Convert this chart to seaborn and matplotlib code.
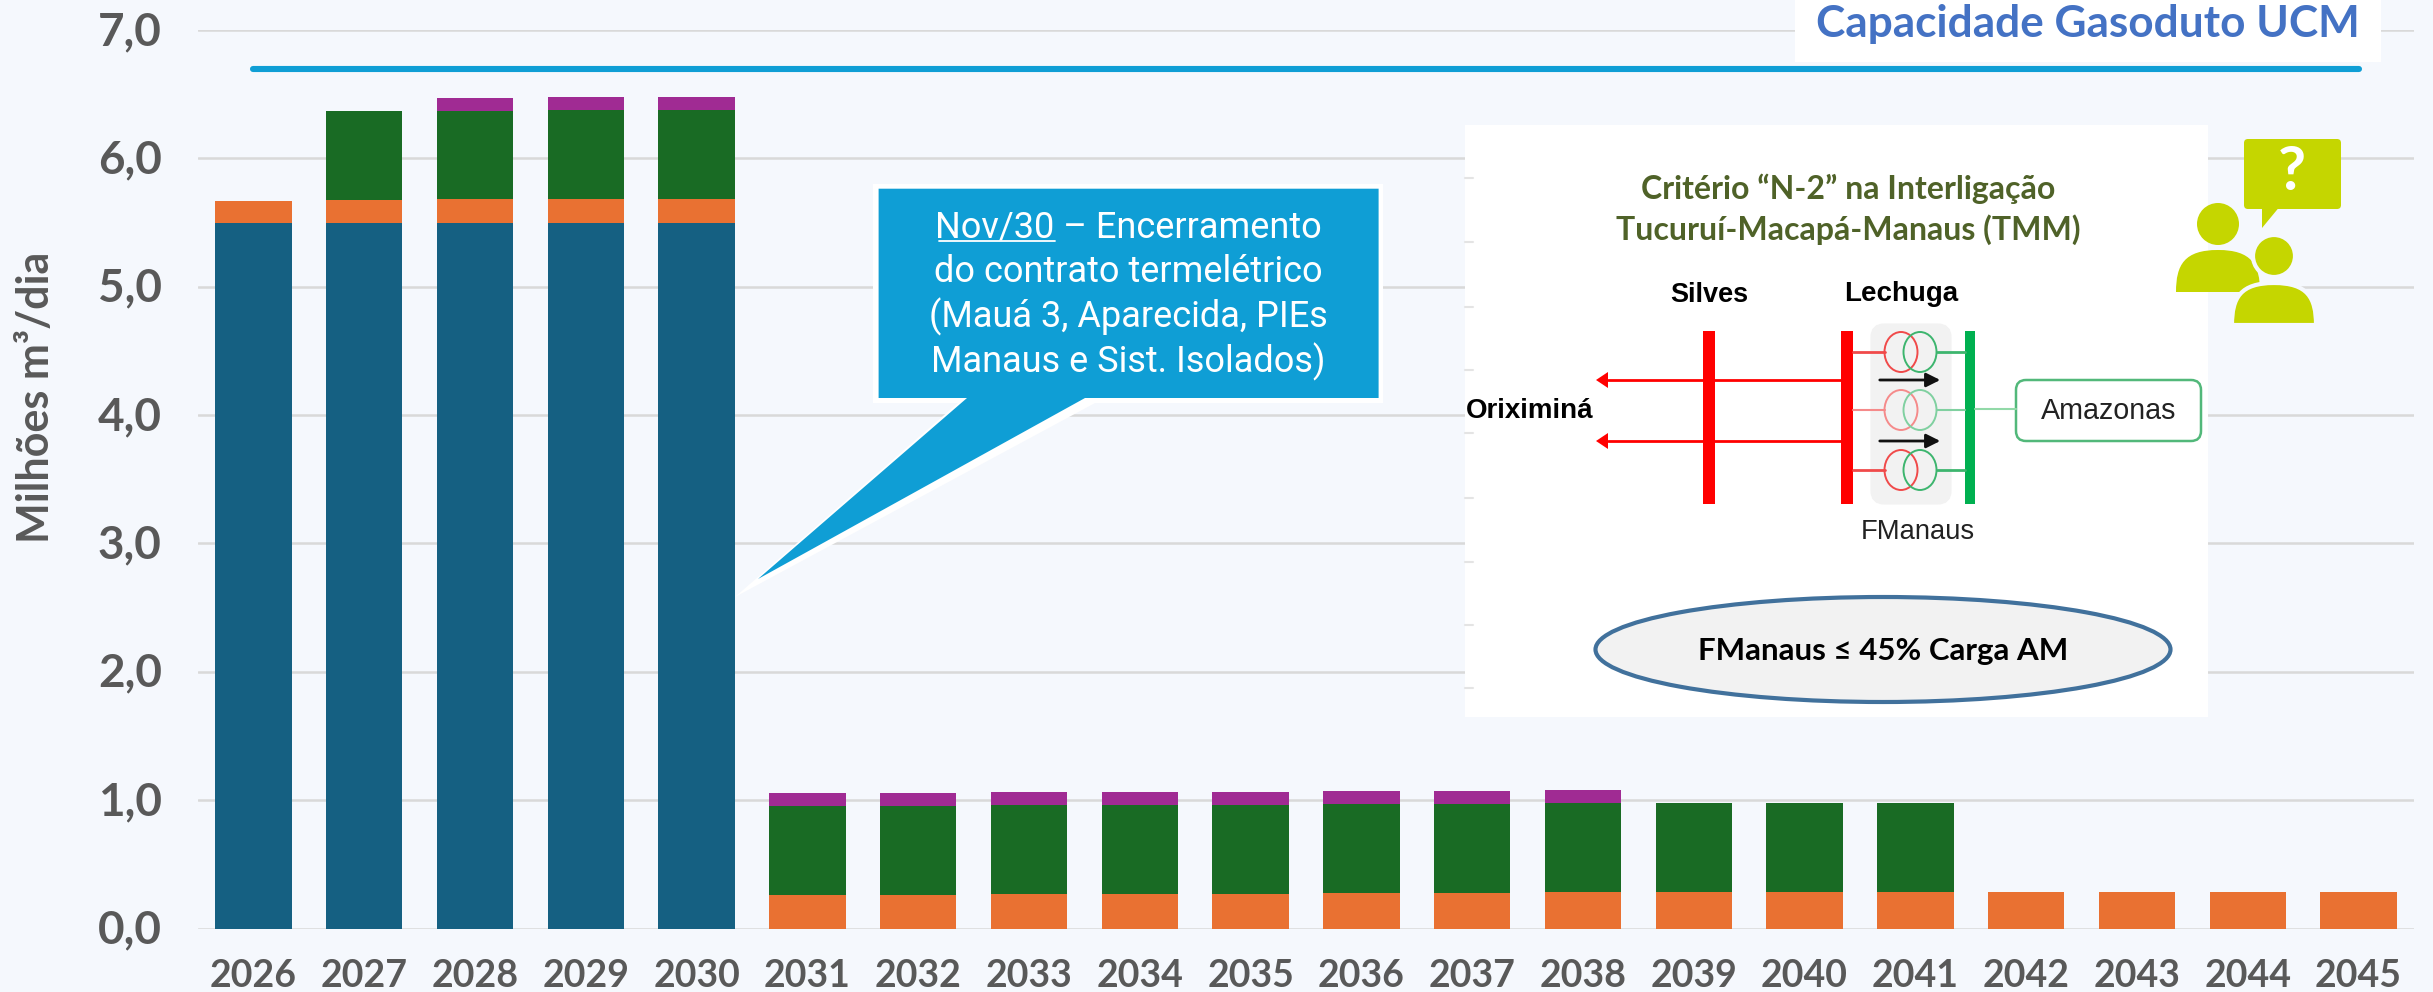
import numpy as np
import matplotlib
matplotlib.use("Agg")
import matplotlib.pyplot as plt
import seaborn as sns
from matplotlib.patches import Rectangle, Ellipse, FancyBboxPatch, Polygon, PathPatch
from matplotlib.path import Path
from matplotlib.transforms import ScaledTranslation

years = [str(y) for y in range(2026, 2046)]
termeletrico = [5.5, 5.5, 5.5, 5.5, 5.5] + [0.0] * 15
laranja = [0.165, 0.175, 0.18, 0.185, 0.187, 0.262, 0.262, 0.267, 0.27, 0.273,
           0.275, 0.278, 0.283, 0.286, 0.286, 0.288, 0.288, 0.288, 0.288, 0.288]
verde = [0.0, 0.695, 0.69, 0.69, 0.69, 0.695, 0.695, 0.693, 0.692, 0.692,
         0.692, 0.694, 0.692, 0.694, 0.694, 0.692, 0.0, 0.0, 0.0, 0.0]
roxo = [0.0, 0.0, 0.10, 0.10, 0.10, 0.099, 0.102, 0.102, 0.103, 0.102,
        0.103, 0.10, 0.103, 0.0, 0.0, 0.0, 0.0, 0.0, 0.0, 0.0]
capacidade = [6.7] * 20
y_ticks = [0, 1, 2, 3, 4, 5, 6, 7]
y_labels = ["0,0", "1,0", "2,0", "3,0", "4,0", "5,0", "6,0", "7,0"]
callout_lines = ["Nov/30 – Encerramento", "do contrato termelétrico",
                 "(Mauá 3, Aparecida, PIEs", "Manaus e Sist. Isolados)"]

BG = "#F5F8FD"
GRAY = "#595959"
W, H = 2433, 992
sns.set_theme(style="white")
plt.rcParams["font.family"] = ["Lato", "DejaVu Sans"]

fig = plt.figure(figsize=(W / 100, H / 100), dpi=100, facecolor=BG)
ax = fig.add_axes([198 / W, (H - 928.6) / H, (2414 - 198) / W, 898.6 / H], facecolor=BG)

bottom = np.zeros(20)
for vals, col in [(termeletrico, "#156082"), (laranja, "#E97132"), (verde, "#196B24"), (roxo, "#A02B93")]:
    sns.barplot(x=years, y=vals, bottom=bottom, color=col, saturation=1, width=0.69,
                ax=ax, linewidth=0, zorder=3)
    bottom = bottom + np.array(vals)
sns.lineplot(x=np.arange(20), y=capacidade, color="#0F9ED5", linewidth=4.4, ax=ax,
             solid_capstyle="round", zorder=4, legend=False)

ax.set_xlim(-0.5, 19.5)
ax.set_ylim(0, 7)
ax.set_yticks(y_ticks)
ax.set_yticklabels(y_labels, fontsize=33, fontweight="bold", color=GRAY)
ax.set_xticks(range(20))
ax.set_xticklabels(years, fontsize=27, fontweight="bold", color=GRAY)
ax.tick_params(axis="y", length=0, pad=26)
ax.tick_params(axis="x", length=0, pad=22)
for lab in ax.get_yticklabels():
    lab.set_transform(lab.get_transform() + ScaledTranslation(0, 1.5 / 72, fig.dpi_scale_trans))
ax.grid(axis="y", color="#D9D9D9", linewidth=1.8)
ax.grid(axis="x", visible=False)
ax.set_axisbelow(True)
for s in ax.spines.values():
    s.set_visible(False)
ax.set_xlabel("")
ax.set_ylabel("")

# overlay in pixel coordinates
ov = fig.add_axes([0, 0, 1, 1], facecolor="none")
ov.set_xlim(0, W)
ov.set_ylim(H, 0)
ov.axis("off")

ov.text(36, 397, "Milhões m³/dia", rotation=90, ha="center", va="center",
        fontsize=31, fontweight="bold", color=GRAY)

# capacity label
ov.add_patch(Rectangle((1795, 0), 586, 62, fc="white", ec="none"))
ov.text(2088, 24, "Capacidade Gasoduto UCM", ha="center", va="center",
        fontsize=31.8, fontweight="bold", color="#4472C4")

# callout
blue = "#0F9ED5"
outer = [(873, 184), (1383, 184), (1383, 403), (1095, 403), (735, 597), (958, 403), (873, 403)]
inner = [(878.6, 188.7), (1378.6, 188.7), (1378.6, 398), (1085, 398), (758, 579), (967, 398), (878.6, 398)]
ov.add_patch(Polygon(outer, closed=True, fc="white", ec="none"))
ov.add_patch(Polygon(inner, closed=True, fc=blue, ec="none"))
for line, yy in zip(callout_lines, [227, 272, 317, 362]):
    ov.text(1128.6, yy, line, ha="center", va="center", fontsize=26, color="white",
            family=["Roboto", "DejaVu Sans"])
ov.plot([939, 1055], [241, 241], color="white", lw=1.3)

# inset
ov.add_patch(Rectangle((1465, 125), 743, 592, fc="white", ec="none"))
for yy in [178, 242, 307, 370, 433, 498, 562, 625, 688]:
    ov.plot([1465, 1473], [yy, yy], color="#E4E4E4", lw=1.5)
tcol = "#4F6228"
ov.text(1848, 189, "Critério “N-2” na Interligação", ha="center", va="center",
        fontsize=23, fontweight="bold", color=tcol)
ov.text(1848, 230, "Tucuruí-Macapá-Manaus (TMM)", ha="center", va="center",
        fontsize=23, fontweight="bold", color=tcol)
ov.text(1709, 295, "Silves", ha="center", va="center", fontsize=19.5, fontweight="bold", color="black",
        family=["Liberation Sans"])
ov.text(1901, 294, "Lechuga", ha="center", va="center", fontsize=20, fontweight="bold", color="black",
        family=["Liberation Sans"])
ov.text(1530, 411, "Oriximiná", ha="center", va="center", fontsize=20, fontweight="bold", color="black",
        family=["Liberation Sans"])
ov.text(1918, 532, "FManaus", ha="center", va="center", fontsize=19.7, color="#222222",
        family=["Liberation Sans"])
ov.add_patch(FancyBboxPatch((1876, 329), 70, 170, boxstyle="round,pad=0,rounding_size=8",
                            fc="#F2F2F2", ec="#F2F2F2", lw=8))
for yy in [380, 441]:
    ov.plot([1608, 1841], [yy, yy], color="#FF0000", lw=2)
    ov.add_patch(Polygon([(1596, yy), (1608, yy - 8), (1608, yy + 8)], fc="#FF0000", ec="none"))
    ov.annotate("", xy=(1943, yy), xytext=(1877, yy),
                arrowprops=dict(arrowstyle="-|>,head_width=0.35,head_length=0.7", color="#111111", lw=2))
for x0 in [1703, 1841]:
    ov.add_patch(Rectangle((x0, 331), 12, 173, fc="#FF0000", ec="none"))
ov.add_patch(Rectangle((1965, 331), 10, 173, fc="#00B050", ec="none"))
for yy, lw_, red, grn in [(352, 2, "#F04A4A", "#3DB56E"), (410, 1.5, "#F58A8A", "#80D0A0"), (470, 2, "#F04A4A", "#3DB56E")]:
    ov.plot([1853, 1885], [yy, yy], color=red, lw=lw_)
    ov.plot([1937, 1965], [yy, yy], color=grn, lw=lw_)
    ov.add_patch(Ellipse((1901, yy), 33, 40, fc="none", ec=red, lw=1.4))
    ov.add_patch(Ellipse((1920, yy), 33, 40, fc="none", ec=grn, lw=1.4))
ov.plot([1975, 2016], [409, 409], color="#92D9A8", lw=1.5)
ov.add_patch(FancyBboxPatch((2022, 386), 173, 49, boxstyle="round,pad=6,rounding_size=10",
                            fc="white", ec="#52B87A", lw=1.8))
ov.text(2109, 411, "Amazonas", ha="center", va="center", fontsize=20.6, color="#222222",
        family=["Liberation Sans"])
ov.add_patch(Ellipse((1883, 649.5), 575, 105, fc="#F2F2F2", ec="#41719C", lw=3))
ov.text(1883, 651, "FManaus ≤ 45% Carga AM", ha="center", va="center", fontsize=22.5,
        fontweight="bold", color="black")

# icon
lime = "#C5D600"
ov.add_patch(FancyBboxPatch((2247, 142), 91, 64, boxstyle="round,pad=3,rounding_size=4", fc=lime, ec="none"))
ov.add_patch(Polygon([(2262, 205), (2281, 205), (2262, 228)], fc=lime, ec="none"))
ov.text(2292, 172, "?", ha="center", va="center", fontsize=44, fontweight="bold", color="white")


def body(x0, x1, ytop, ybot):
    xm = (x0 + x1) / 2
    yshoulder = ytop + 0.35 * (ybot - ytop)
    verts = [(x0, ybot), (x0, yshoulder), (x0 + 0.1 * (x1 - x0), ytop), (xm, ytop),
             (x1 - 0.1 * (x1 - x0), ytop), (x1, yshoulder), (x1, ybot), (x0, ybot)]
    codes = [Path.MOVETO, Path.CURVE4, Path.CURVE4, Path.CURVE4,
             Path.CURVE4, Path.CURVE4, Path.CURVE4, Path.CLOSEPOLY]
    return Path(verts, codes)


ov.add_patch(Ellipse((2218, 224), 42, 42, fc=lime, ec="none"))
ov.add_patch(PathPatch(body(2176, 2260, 250, 292), fc=lime, ec="none"))
ov.add_patch(Ellipse((2274, 256), 42, 42, fc=lime, ec=BG, lw=3))
ov.add_patch(PathPatch(body(2232, 2316, 283, 325), fc=lime, ec=BG, lw=3))

fig.savefig("out.png", dpi=100, facecolor=BG)
